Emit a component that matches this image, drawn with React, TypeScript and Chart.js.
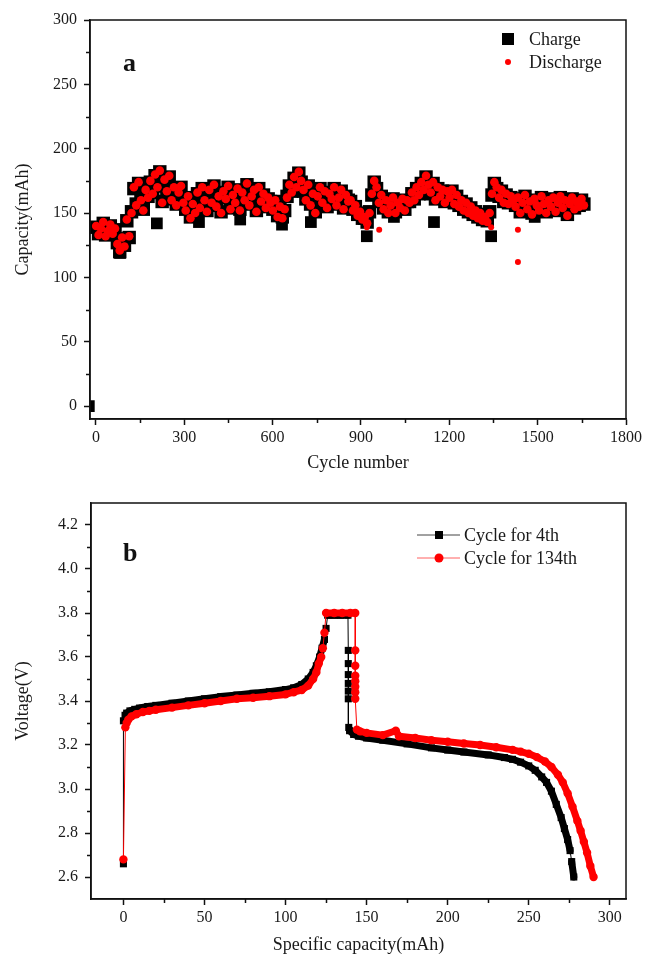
import React, { useEffect, useRef } from 'react';
import { Chart, registerables } from 'chart.js';
Chart.register(...registerables);

const FONT = "'Liberation Serif', 'Times New Roman', serif";

// ---------- Panel a: capacity vs cycle (one value every 8 cycles) ----------
const dischargeCap = [
  140, 133, 138, 143, 132, 136, 141, 134,
  138, 126, 121, 131, 124,
  145, 132,
  150,
  170, 156, 174, 160, 152, 168, 162, 175,
  165, 180, 170, 183, 158, 176, 167, 179,
  160, 170, 156, 166, 171, 158,
  152, 163, 146, 157, 150,
  166, 154, 170, 160, 151, 168, 158, 172, 155, 163, 150, 167, 161, 171, 153, 164, 158, 169, 152, 166, 160, 173, 156, 163, 168, 151, 170, 159, 165, 154, 162, 158,
  152, 160, 147, 155, 146, 153,
  162, 172, 166, 178, 170, 182, 175,
  168, 160, 172, 156, 165, 150, 163, 170, 158, 167, 154, 165, 161, 170, 156, 162, 168, 153, 164, 159,
  160, 152, 156, 148, 151, 145, 147, 142,
  150, 165, 175,
  170, 158, 164, 153, 160, 150,
  156, 162, 150, 158, 154, 161, 152, 160,
  158, 166, 160, 170, 164, 174, 168, 179, 172,
  166, 174, 160, 170, 163, 168, 158, 167,
  162, 168, 157, 164, 155, 160, 152, 158, 150, 155, 148, 152, 146, 150, 144, 147, 143,
  150, 165, 174,
  170, 162, 168, 158, 165, 157, 163, 160,
  155, 162, 150, 158, 164, 153, 159, 149, 161, 156, 152, 163, 157, 150, 160, 155, 162, 151, 158, 163, 154, 160, 148, 157, 162, 153, 159, 155, 161, 156,
];
const chargeCap = [
  139, 134, 137, 142, 133, 137, 140, 135,
  137, 127, 120, 130, 125,
  144, 131,
  151,
  169, 157, 173, 161, 153, 167, 163, 174,
  166, 179, 171, 182, 159, 175, 168, 178,
  161, 169, 157, 165, 170, 159,
  153, 162, 147, 156, 151,
  165, 155, 169, 161, 152, 167, 159, 171, 156, 162, 151, 166, 162, 170, 154, 163, 159, 168, 153, 165, 161, 172, 157, 162, 167, 152, 169, 160, 164, 155, 161, 159,
  153, 159, 148, 154, 147, 152,
  163, 171, 167, 177, 171, 181, 174,
  167, 161, 171, 157, 164, 151, 162, 169, 159, 166, 155, 164, 162, 169, 157, 161, 167, 154, 163, 160,
  159, 153, 155, 149, 150, 146, 146, 143,
  151, 164, 174,
  169, 159, 163, 154, 159, 151,
  155, 161, 151, 157, 155, 160, 153, 159,
  159, 165, 161, 169, 165, 173, 169, 178, 171,
  165, 173, 161, 169, 164, 167, 159, 166,
  161, 167, 158, 163, 156, 159, 153, 157, 151, 154, 149, 151, 147, 149, 145, 146, 144,
  151, 164, 173,
  169, 163, 167, 159, 164, 158, 162, 159,
  156, 161, 151, 157, 163, 154, 158, 150, 160, 157, 153, 162, 156, 151, 159, 156, 161, 152, 157, 162, 155, 159, 149, 156, 161, 154, 158, 156, 160, 157,
];
const cycles = dischargeCap.map((_, i) => 1 + 8 * i);
const chargeOutlierCycles = [-24, 82, 207, 350, 490, 632, 730, 920, 1012, 1148, 1342, 1490];
const chargeOutlierCaps = [0, 119, 142, 143, 145, 141, 143, 132, 147, 143, 132, 147];
const dischargeOutlierCycles = [920, 962, 1342, 1433, 1433];
const dischargeOutlierCaps = [139, 137, 139, 137, 112];
const aXTicks = [0, 300, 600, 900, 1200, 1500, 1800];
const aYTicks = [0, 50, 100, 150, 200, 250, 300];
const aXMinor = [150, 450, 750, 1050, 1350, 1650];
const aYMinor = [25, 75, 125, 175, 225, 275];

// ---------- Panel b: voltage vs specific capacity ----------
const cap4th = [0, 0, 1, 2, 4, 7, 10, 15, 20, 30, 40, 50, 60, 70, 80, 90, 100, 105, 110, 114,
  117, 119, 121, 122.5, 124, 125, 126, 130, 134, 138.5,
  138.7, 138.7, 138.7, 138.7, 138.7, 138.7,
  139, 139.5, 142, 145, 150, 160, 175, 190, 200, 210,
  225, 235, 240, 245, 250, 254, 258, 261, 264, 267,
  270, 272, 274, 275.5, 276.5, 277.8];
const volt4th = [2.66, 3.31, 3.335, 3.345, 3.355, 3.362, 3.368, 3.375, 3.38, 3.39, 3.40, 3.41, 3.42, 3.427, 3.435, 3.442, 3.452, 3.46, 3.475, 3.50,
  3.53, 3.56, 3.60, 3.64, 3.68, 3.73, 3.79, 3.79, 3.79, 3.79,
  3.63, 3.57, 3.52, 3.48, 3.445, 3.41,
  3.28, 3.265, 3.248, 3.24, 3.232, 3.222, 3.205, 3.187, 3.177, 3.168,
  3.155, 3.143, 3.135, 3.122, 3.105, 3.085, 3.055, 3.03, 2.99, 2.93,
  2.87, 2.82, 2.77, 2.72, 2.67, 2.60];
const cap134th = [0, 1.2, 2, 3, 5, 8, 12, 16, 20, 30, 40, 50, 60, 70, 80, 90, 100, 105, 110, 114,
  117, 119, 120.5, 122, 123, 124, 125, 130, 135, 140,
  143, 143, 143, 143, 143, 143, 143, 143,
  144, 146, 150, 160, 168, 170, 180, 190, 200, 210,
  220, 230, 240, 245, 250, 255, 260, 264, 268, 271,
  274, 277, 280, 282, 284, 286, 288, 290];
const volt134th = [2.68, 3.28, 3.30, 3.315, 3.33, 3.34, 3.35, 3.355, 3.36, 3.37, 3.38, 3.39, 3.40, 3.41, 3.415, 3.422, 3.43, 3.44, 3.45, 3.47,
  3.50, 3.53, 3.57, 3.60, 3.64, 3.71, 3.80, 3.80, 3.80, 3.80,
  3.80, 3.63, 3.56, 3.515, 3.49, 3.465, 3.44, 3.41,
  3.27, 3.262, 3.255, 3.245, 3.265, 3.24, 3.232, 3.222, 3.215, 3.207,
  3.20, 3.19, 3.178, 3.17, 3.16, 3.145, 3.125, 3.10, 3.065, 3.03,
  2.98, 2.92, 2.855, 2.81, 2.76, 2.71, 2.65, 2.60];
const bXTicks = [0, 50, 100, 150, 200, 250, 300];
const bYTicks = [2.6, 2.8, 3.0, 3.2, 3.4, 3.6, 3.8, 4.0, 4.2];
const bXMinor = [25, 75, 125, 175, 225, 275];
const bYMinor = [2.7, 2.9, 3.1, 3.3, 3.5, 3.7, 3.9, 4.1];

const RED = '#ff0000';
const BLACK = '#000000';
const TEXT = '#1a1a1a';

const overlay = {
  id: 'overlay',
  afterDraw(chart: any, _a: any, o: any) {
    const { ctx } = chart;
    const { left, right, top, bottom } = chart.chartArea;
    const xs = chart.scales.x;
    const ys = chart.scales.y;
    ctx.save();
    ctx.strokeStyle = '#111';
    ctx.lineWidth = 1.5;
    ctx.strokeRect(left, top, right - left, bottom - top);
    ctx.beginPath();
    for (const v of o.xMinor) {
      const p = Math.round(xs.getPixelForValue(v)) + 0.5;
      ctx.moveTo(p, bottom);
      ctx.lineTo(p, bottom + 4);
    }
    for (const v of o.yMinor) {
      const p = Math.round(ys.getPixelForValue(v)) + 0.5;
      ctx.moveTo(left, p);
      ctx.lineTo(left - 4, p);
    }
    ctx.stroke();
    ctx.fillStyle = '#111';
    ctx.font = `bold 26px ${FONT}`;
    ctx.textBaseline = 'alphabetic';
    ctx.textAlign = 'left';
    ctx.fillText(o.letter, o.letterX, o.letterY);
    ctx.font = `18px ${FONT}`;
    ctx.textBaseline = 'middle';
    for (const it of o.legend) {
      if (it.line) {
        ctx.strokeStyle = it.lineColor;
        ctx.lineWidth = 1;
        ctx.beginPath();
        ctx.moveTo(it.mx - 22, it.y);
        ctx.lineTo(it.mx + 21, it.y);
        ctx.stroke();
      }
      ctx.fillStyle = it.color;
      if (it.shape === 'rect') {
        ctx.fillRect(it.mx - it.size / 2, it.y - it.size / 2, it.size, it.size);
      } else {
        ctx.beginPath();
        ctx.arc(it.mx, it.y, it.size / 2, 0, Math.PI * 2);
        ctx.fill();
      }
      ctx.fillStyle = TEXT;
      ctx.fillText(it.text, it.tx, it.y + 1);
    }
    ctx.restore();
  },
};

function axis(min: number, max: number, majors: number[], title: string, isX: boolean, size: number, titlePad: any, labelPad: number, fmt?: (v: number) => string) {
  return {
    type: 'linear',
    position: isX ? 'bottom' : 'left',
    min,
    max,
    afterBuildTicks: (s: any) => {
      s.ticks = majors.map((v) => ({ value: v }));
    },
    ticks: {
      autoSkip: false,
      maxRotation: 0,
      color: TEXT,
      padding: labelPad,
      font: { family: FONT, size: 16 },
      callback: fmt ? (v: any) => fmt(Number(v)) : (v: any) => String(Math.round(Number(v))),
    },
    grid: { drawOnChartArea: false, drawTicks: true, tickLength: 6, tickColor: '#111', tickWidth: 1.5 },
    border: { display: true, color: '#111', width: 1.5 },
    title: { display: true, text: title, color: TEXT, font: { family: FONT, size: 18 }, padding: titlePad },
    afterFit: (s: any) => {
      if (isX) s.height = size; else s.width = size;
    },
  };
}

function configA(): any {
  const charge = cycles.map((c, i) => ({ x: c, y: chargeCap[i] }));
  const chargeOut = chargeOutlierCycles.map((c, i) => ({ x: c, y: chargeOutlierCaps[i] }));
  const discharge = cycles.map((c, i) => ({ x: c, y: dischargeCap[i] }));
  const dischargeOut = dischargeOutlierCycles.map((c, i) => ({ x: c, y: dischargeOutlierCaps[i] }));
  return {
    type: 'scatter',
    data: {
      datasets: [
        { label: 'Charge', data: charge, pointStyle: 'rect', pointRadius: 9.5, backgroundColor: BLACK, borderWidth: 0, order: 3, clip: 0 },
        { label: 'Charge ', data: chargeOut, pointStyle: 'rect', pointRadius: 8.3, backgroundColor: BLACK, borderWidth: 0, order: 4, clip: 0 },
        { label: 'Discharge', data: discharge, pointStyle: 'circle', pointRadius: 4.3, backgroundColor: RED, borderWidth: 0, order: 1, clip: 0 },
        { label: 'Discharge ', data: dischargeOut, pointStyle: 'circle', pointRadius: 3, backgroundColor: RED, borderWidth: 0, order: 2, clip: 0 },
      ],
    },
    options: {
      responsive: false,
      animation: false,
      layout: { padding: { left: 0, right: 23, top: 20, bottom: 0 } },
      scales: {
        x: axis(-20, 1800, aXTicks, 'Cycle number', true, 59, { top: 0, bottom: 4 }, 3),
        y: axis(-10, 300, aYTicks, 'Capacity(mAh)', false, 90, { top: 12, bottom: 0 }, 7),
      },
      plugins: {
        legend: { display: false },
        tooltip: { enabled: false },
        overlay: {
          xMinor: aXMinor, yMinor: aYMinor,
          letter: 'a', letterX: 123, letterY: 71,
          legend: [
            { shape: 'rect', color: BLACK, size: 12, mx: 508, y: 39, tx: 529, text: 'Charge' },
            { shape: 'circle', color: RED, size: 6, mx: 508, y: 62, tx: 529, text: 'Discharge' },
          ],
        },
      },
    },
    plugins: [overlay],
  };
}

const thin = (ctx: any) => (Math.abs(ctx.p1.x - ctx.p0.x) < 2 ? 1 : 7);

function configB(): any {
  const d4 = cap4th.map((c, i) => ({ x: c, y: volt4th[i] }));
  const d134 = cap134th.map((c, i) => ({ x: c, y: volt134th[i] }));
  return {
    type: 'line',
    data: {
      datasets: [
        {
          label: 'Cycle for 4th', data: d4, borderColor: BLACK, backgroundColor: BLACK,
          pointStyle: 'rect', pointRadius: 5, pointBorderWidth: 0, borderWidth: 1, tension: 0,
          borderCapStyle: 'round', borderJoinStyle: 'round', segment: { borderWidth: thin }, order: 2,
        },
        {
          label: 'Cycle for 134th', data: d134, borderColor: RED, backgroundColor: RED,
          pointStyle: 'circle', pointRadius: 4.2, pointBorderWidth: 0, borderWidth: 1, tension: 0,
          borderCapStyle: 'round', borderJoinStyle: 'round', segment: { borderWidth: thin }, order: 1,
        },
      ],
    },
    options: {
      responsive: false,
      animation: false,
      layout: { padding: { left: 0, right: 23, top: 25, bottom: 0 } },
      scales: {
        x: axis(-20, 310, bXTicks, 'Specific capacity(mAh)', true, 58, { top: 0, bottom: 1 }, 3),
        y: axis(2.5, 4.3, bYTicks, 'Voltage(V)', false, 91, { top: 12, bottom: 0 }, 7, (v) => v.toFixed(1)),
      },
      plugins: {
        legend: { display: false },
        tooltip: { enabled: false },
        overlay: {
          xMinor: bXMinor, yMinor: bYMinor,
          letter: 'b', letterX: 123, letterY: 83,
          legend: [
            { shape: 'rect', line: true, lineColor: '#444', color: BLACK, size: 8, mx: 439, y: 57, tx: 464, text: 'Cycle for 4th' },
            { shape: 'circle', line: true, lineColor: '#ff6060', color: RED, size: 9, mx: 439, y: 80, tx: 464, text: 'Cycle for 134th' },
          ],
        },
      },
    },
    plugins: [overlay],
  };
}

export default function App() {
  const refA = useRef<HTMLCanvasElement>(null);
  const refB = useRef<HTMLCanvasElement>(null);
  useEffect(() => {
    const a = new Chart(refA.current as HTMLCanvasElement, configA());
    const b = new Chart(refB.current as HTMLCanvasElement, configB());
    return () => {
      a.destroy();
      b.destroy();
    };
  }, []);
  return (
    <div style={{ position: 'fixed', left: 0, top: 0, width: 649, height: 957, background: '#fff' }}>
      <canvas ref={refA} width={649} height={478} style={{ position: 'absolute', left: 0, top: 0, width: 649, height: 478 }} />
      <canvas ref={refB} width={649} height={479} style={{ position: 'absolute', left: 0, top: 478, width: 649, height: 479 }} />
    </div>
  );
}
